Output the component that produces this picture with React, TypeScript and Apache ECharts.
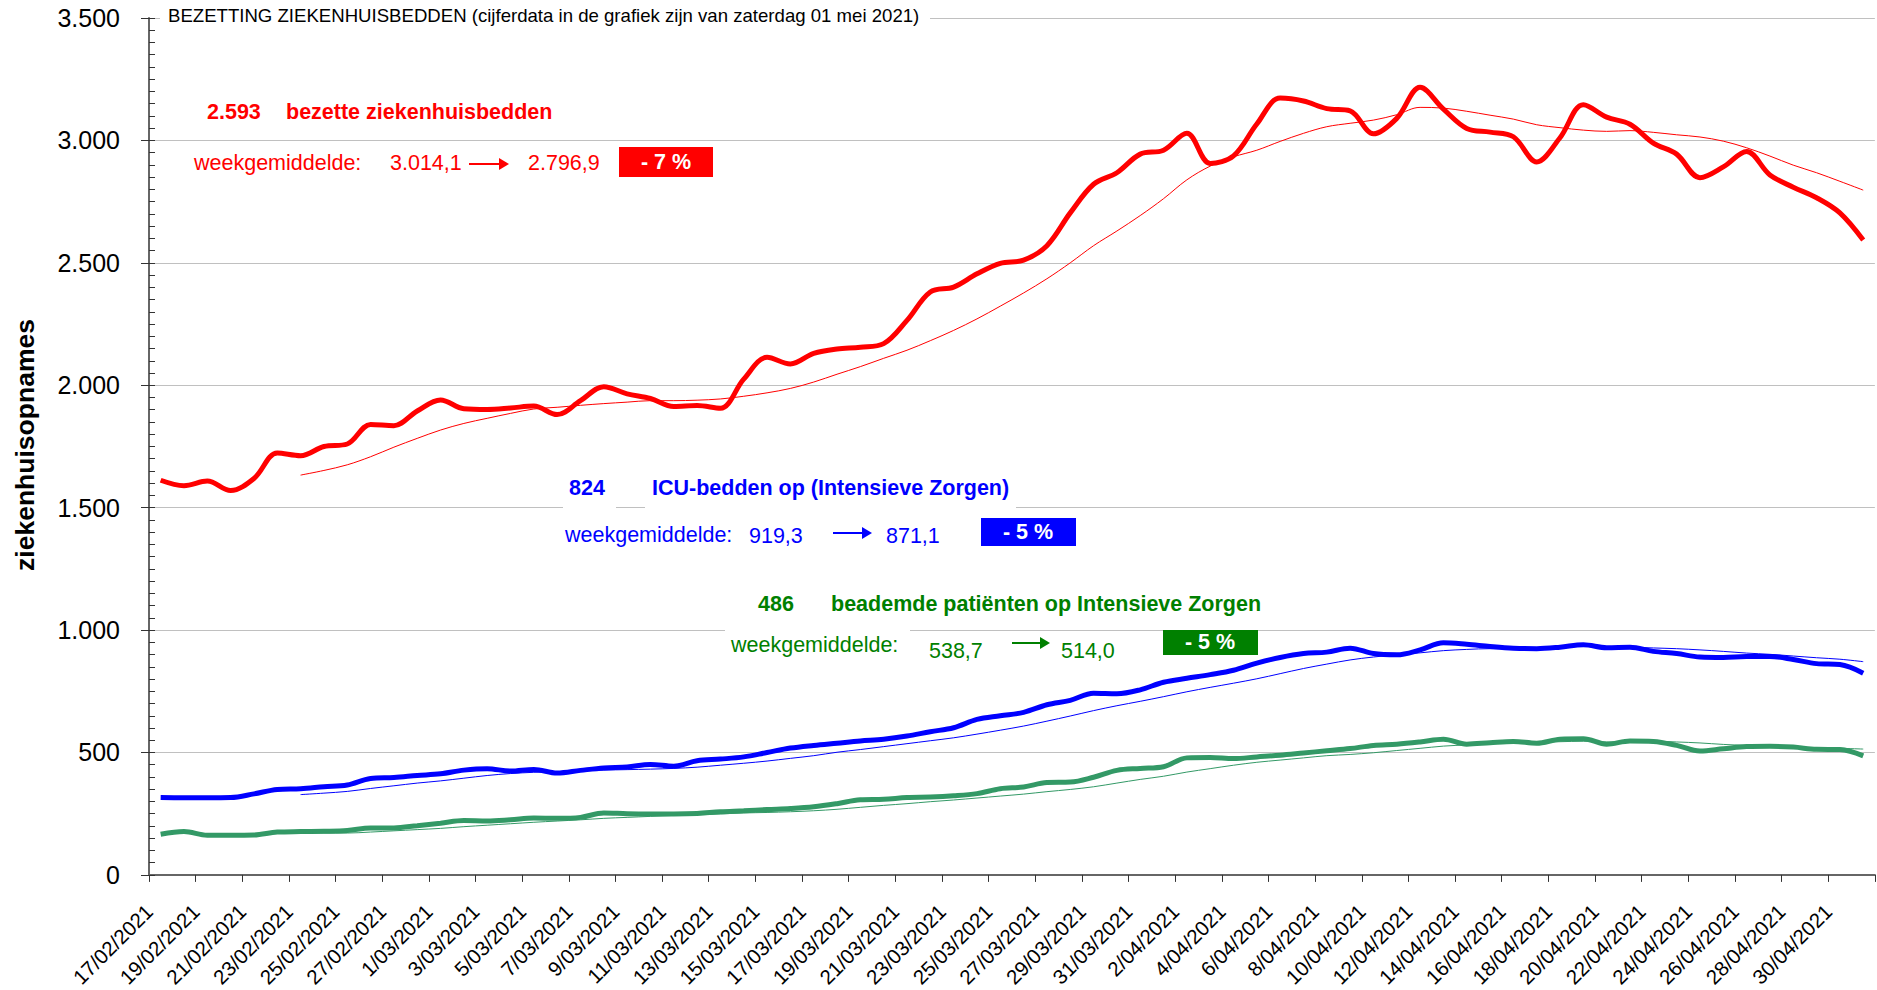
import React, { useEffect, useRef } from 'react';
import * as echarts from 'echarts';

const FONT = '"Liberation Sans", Arial, Helvetica, sans-serif';

const dates: string[] = [
  '17/02/2021', '18/02/2021', '19/02/2021', '20/02/2021', '21/02/2021', '22/02/2021', '23/02/2021',
  '24/02/2021', '25/02/2021', '26/02/2021', '27/02/2021', '28/02/2021',
  '1/03/2021', '2/03/2021', '3/03/2021', '4/03/2021', '5/03/2021', '6/03/2021', '7/03/2021',
  '8/03/2021', '9/03/2021', '10/03/2021', '11/03/2021', '12/03/2021', '13/03/2021', '14/03/2021',
  '15/03/2021', '16/03/2021', '17/03/2021', '18/03/2021', '19/03/2021', '20/03/2021', '21/03/2021',
  '22/03/2021', '23/03/2021', '24/03/2021', '25/03/2021', '26/03/2021', '27/03/2021', '28/03/2021',
  '29/03/2021', '30/03/2021', '31/03/2021',
  '1/04/2021', '2/04/2021', '3/04/2021', '4/04/2021', '5/04/2021', '6/04/2021', '7/04/2021',
  '8/04/2021', '9/04/2021', '10/04/2021', '11/04/2021', '12/04/2021', '13/04/2021', '14/04/2021',
  '15/04/2021', '16/04/2021', '17/04/2021', '18/04/2021', '19/04/2021', '20/04/2021', '21/04/2021',
  '22/04/2021', '23/04/2021', '24/04/2021', '25/04/2021', '26/04/2021', '27/04/2021', '28/04/2021',
  '29/04/2021', '30/04/2021', '1/05/2021',
];

// bezette ziekenhuisbedden (dagwaarden)
const hospital: number[] = [
  1612, 1590, 1609, 1570, 1619, 1723, 1712, 1750, 1760, 1840, 1835, 1895, 1940, 1904, 1901, 1907,
  1915, 1880, 1937, 1994, 1965, 1946, 1913, 1917, 1906, 2025, 2114, 2087, 2130, 2148, 2155, 2170,
  2265, 2381, 2401, 2455, 2498, 2511, 2570, 2704, 2821, 2868, 2944, 2960, 3029, 2906, 2937, 3067,
  3173, 3161, 3130, 3121, 3027, 3090, 3217, 3128, 3049, 3034, 3015, 2912, 3011, 3146, 3095, 3066,
  2989, 2944, 2848, 2892, 2955, 2859, 2809, 2766, 2704, 2593,
];
// weekgemiddelde ziekenhuisbedden (vanaf 23/02/2021)
const hospitalAvg: number[] = [
  1633, 1652, 1675, 1708, 1747, 1783, 1817, 1844, 1865, 1885, 1903, 1910, 1918, 1925, 1931, 1937,
  1937, 1939, 1944, 1955, 1969, 1987, 2013, 2045, 2076, 2110, 2143, 2182, 2224, 2271, 2323, 2377,
  2435, 2500, 2570, 2630, 2693, 2762, 2839, 2895, 2933, 2960, 2996, 3029, 3056, 3070, 3083, 3105,
  3135, 3132, 3119, 3103, 3087, 3064, 3052, 3042, 3037, 3040, 3033, 3023, 3014, 2997, 2970, 2936,
  2899, 2868, 2833, 2797,
];

// ICU-bedden
const icu: number[] = [
  316, 315, 315, 316, 331, 349, 352, 360, 367, 394, 398, 406, 413, 428, 434, 424, 431, 416, 427, 437,
  441, 451, 444, 466, 473, 482, 500, 518, 529, 538, 547, 554, 567, 585, 601, 635, 650, 664, 695, 713,
  742, 740, 756, 787, 803, 818, 836, 865, 888, 904, 910, 926, 904, 899, 919, 948, 942, 933, 926, 924,
  930, 940, 928, 930, 913, 904, 890, 888, 892, 892, 880, 863, 859, 824,
];
const icuAvg: number[] = [
  328, 334, 341, 353, 364, 375, 384, 395, 406, 414, 419, 422, 425, 428, 430, 432, 435, 440, 448, 456,
  465, 476, 487, 501, 512, 524, 536, 548, 560, 575, 591, 608, 628, 649, 671, 691, 709, 728, 748, 766,
  783, 801, 822, 843, 861, 878, 890, 899, 907, 916, 921, 924, 924, 927, 932, 935, 932, 930, 927, 924,
  919, 913, 906, 901, 894, 887, 881, 871,
];

// beademde patiënten
const vent: number[] = [
  166, 177, 162, 162, 163, 175, 177, 178, 181, 192, 192, 201, 211, 222, 220, 225, 232, 231, 235, 253,
  250, 249, 249, 251, 258, 262, 267, 271, 278, 291, 307, 309, 316, 318, 323, 332, 352, 359, 377, 379,
  399, 427, 435, 442, 478, 480, 475, 482, 489, 498, 507, 516, 529, 534, 543, 554, 534, 540, 545, 538,
  554, 556, 534, 547, 545, 529, 506, 515, 524, 525, 522, 513, 512, 486,
];
const ventAvg: number[] = [
  169, 171, 171, 175, 180, 185, 190, 197, 203, 209, 215, 220, 225, 231, 235, 239, 243, 245, 249, 253,
  255, 258, 262, 268, 276, 284, 291, 299, 306, 314, 322, 330, 340, 349, 360, 375, 390, 403, 420, 434,
  448, 460, 469, 478, 487, 492, 499, 508, 517, 526, 531, 536, 540, 541, 544, 546, 543, 545, 546, 543,
  539, 533, 529, 527, 524, 519, 517, 514,
];

const yTicks = [0, 500, 1000, 1500, 2000, 2500, 3000, 3500];
const AVG_START = 6;

const RED = '#ff0000';
const BLUE = '#0000ff';
const GREEN_LINE = '#339966';
const GREEN_TEXT = '#008000';

const ANN = 21.5;

function nl(v: number): string {
  if (v >= 1000) return `${Math.floor(v / 1000)}.${String(v % 1000).padStart(3, '0')}`;
  return String(v);
}

function txt(text: string, x: number, y: number, fill: string, size: number, bold: boolean, align = 'left') {
  return {
    type: 'text',
    x,
    y,
    z: 100,
    style: {
      text,
      fill,
      font: `${bold ? 'bold ' : ''}${size}px ${FONT}`,
      textAlign: align,
      align,
      textVerticalAlign: 'middle',
      verticalAlign: 'middle',
    },
  };
}

function rect(x: number, y: number, w: number, h: number, fill: string) {
  return { type: 'rect', z: 99, shape: { x, y, width: w, height: h }, style: { fill } };
}

function arrow(x1: number, x2: number, y: number, color: string) {
  return [
    { type: 'line', z: 100, shape: { x1, y1: y, x2: x2 - 8, y2: y }, style: { stroke: color, lineWidth: 2 } },
    { type: 'polygon', z: 100, shape: { points: [[x2 - 10, y - 6], [x2, y], [x2 - 10, y + 6]] }, style: { fill: color } },
  ];
}

export default function App() {
  const ref = useRef<HTMLDivElement>(null);

  useEffect(() => {
    const chart = echarts.init(ref.current!, null, { renderer: 'svg' });
    const daily = (arr: number[]) => arr.map((v, i) => [i + 0.5, v]);
    const avg = (arr: number[]) => arr.map((v, i) => [i + AVG_START + 0.5, v]);

    const thick = (name: string, arr: number[], color: string) => ({
      name, type: 'line', data: daily(arr), smooth: 0.35, symbol: 'none', z: 3,
      lineStyle: { color, width: 5 }, yAxisIndex: 0,
    });
    const thin = (name: string, arr: number[], color: string) => ({
      name, type: 'line', data: avg(arr), smooth: 0.35, symbol: 'none', z: 4,
      lineStyle: { color, width: 1 }, yAxisIndex: 0,
    });

    const option: any = {
      animation: false,
      backgroundColor: '#ffffff',
      grid: { left: 149, right: 2, top: 18, bottom: 115, containLabel: false },
      xAxis: {
        type: 'value',
        min: 0,
        max: dates.length,
        interval: 2,
        axisLine: { show: true, lineStyle: { color: '#666', width: 2 } },
        axisTick: { show: true, length: 7, lineStyle: { color: '#333', width: 1 } },
        axisLabel: {
          rotate: 45,
          margin: 33,
          fontSize: 20.5,
          fontFamily: FONT,
          color: '#000',
          showMinLabel: true,
          showMaxLabel: true,
          formatter: (v: number) => dates[Math.round(v)] ?? '',
        },
        splitLine: { show: false },
      },
      yAxis: [
        {
          type: 'value',
          min: yTicks[0],
          max: yTicks[yTicks.length - 1],
          interval: 500,
          position: 'left',
          axisLine: { show: true, lineStyle: { color: '#666', width: 2 } },
          axisTick: { show: true, inside: false, length: 8, lineStyle: { color: '#333', width: 1 } },
          axisLabel: { margin: 29, fontSize: 25, fontFamily: FONT, color: '#000', formatter: (v: number) => nl(v) },
          splitLine: { show: true, lineStyle: { color: '#c0c0c0', width: 1 } },
        },
        {
          type: 'value',
          min: yTicks[0],
          max: yTicks[yTicks.length - 1],
          interval: 50,
          position: 'left',
          offset: 0,
          axisLine: { show: false },
          axisTick: { show: true, inside: true, length: 6, lineStyle: { color: '#333', width: 1 } },
          axisLabel: { show: false },
          splitLine: { show: false },
        },
      ],
      series: [
        thick('bezette ziekenhuisbedden', hospital, RED),
        thin('weekgemiddelde ziekenhuisbedden', hospitalAvg, RED),
        thick('ICU-bedden', icu, BLUE),
        thin('weekgemiddelde ICU-bedden', icuAvg, BLUE),
        thick('beademde patiënten', vent, GREEN_LINE),
        thin('weekgemiddelde beademde patiënten', ventAvg, GREEN_LINE),
      ],
      graphic: [
        rect(160, 5, 770, 26, '#fff'),
        txt('BEZETTING ZIEKENHUISBEDDEN (cijferdata in de grafiek zijn van zaterdag 01 mei 2021)', 168, 15, '#000', 18.6, false),
        {
          type: 'text', x: 25, y: 445, rotation: Math.PI / 2, z: 100,
          style: {
            text: 'ziekenhuisopnames', fill: '#000', font: `bold 26.5px ${FONT}`,
            textAlign: 'center', align: 'center', textVerticalAlign: 'middle', verticalAlign: 'middle',
          },
        },
        // rood
        txt('2.593', 207, 112, RED, ANN, true),
        txt('bezette ziekenhuisbedden', 286, 112, RED, ANN, true),
        txt('weekgemiddelde:', 194, 163, RED, ANN, false),
        txt('3.014,1', 390, 163, RED, ANN, false),
        ...arrow(469, 509, 164, RED),
        txt('2.796,9', 528, 163, RED, ANN, false),
        rect(619, 147, 94, 30, RED),
        txt('- 7 %', 666, 162, '#fff', ANN, true, 'center'),
        // blauw
        rect(563, 472, 53, 40, '#fff'),
        rect(645, 472, 371, 40, '#fff'),
        txt('824', 569, 488, BLUE, ANN, true),
        txt('ICU-bedden op (Intensieve Zorgen)', 652, 488, BLUE, ANN, true),
        txt('weekgemiddelde:', 565, 535, BLUE, ANN, false),
        txt('919,3', 749, 536, BLUE, ANN, false),
        ...arrow(833, 872, 533, BLUE),
        txt('871,1', 886, 536, BLUE, ANN, false),
        rect(981, 518, 95, 28, BLUE),
        txt('- 5 %', 1028, 532, '#fff', ANN, true, 'center'),
        // groen
        rect(725, 622, 185, 36, '#fff'),
        txt('486', 758, 604, GREEN_TEXT, ANN, true),
        txt('beademde patiënten op Intensieve Zorgen', 831, 604, GREEN_TEXT, ANN, true),
        txt('weekgemiddelde:', 731, 645, GREEN_TEXT, ANN, false),
        txt('538,7', 929, 651, GREEN_TEXT, ANN, false),
        ...arrow(1012, 1050, 643, GREEN_TEXT),
        txt('514,0', 1061, 651, GREEN_TEXT, ANN, false),
        rect(1163, 630, 95, 25, GREEN_TEXT),
        txt('- 5 %', 1210, 642, '#fff', ANN, true, 'center'),
      ],
    };

    chart.setOption(option);
    return () => chart.dispose();
  }, []);

  return (
    <div
      ref={ref}
      style={{ position: 'fixed', left: 0, top: 0, width: 1877, height: 990, background: '#fff' }}
    />
  );
}
